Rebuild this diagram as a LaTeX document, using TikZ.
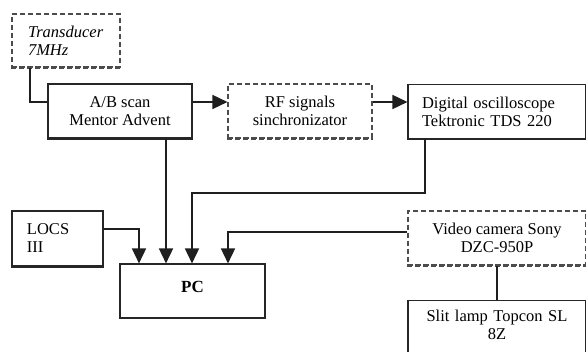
\documentclass[tikz,border=0pt]{standalone}
\usepackage{fontspec}
\setmainfont{Liberation Serif}
\usetikzlibrary{arrows.meta}
\begin{document}
\begin{tikzpicture}[x=1pt,y=-1pt,
  box/.style={draw=black!85, line width=1.1pt, rectangle, inner sep=0pt,
    font=\fontsize{16.5}{18}\selectfont},
  dbox/.style={box, draw=black!70, dash pattern=on 5pt off 3pt},
  shadowline/.style={line width=2.4pt, draw=black!85},
  dshadowline/.style={line width=2.4pt, draw=black!70, dash pattern=on 5pt off 3pt},
  conn/.style={line width=1.6pt, draw=black!88},
  arr/.style={conn, -{Triangle[length=15pt,width=14pt]}}]
\useasboundingbox (0,0) rectangle (586,352);
\clip (0,0) rectangle (586,352);
\fill[white] (0,0) rectangle (586,352);
% boxes
\node[dbox, minimum width=108pt, minimum height=53pt, text width=76pt, align=left,
  font=\fontsize{16.5}{18}\selectfont\itshape] (trans) at (66,40.5) {Transducer\\7MHz};
\node[box, minimum width=144pt, minimum height=54pt, align=center] (ab) at (120,111) {A/B scan\\Mentor Advent};
\node[dbox, minimum width=144pt, minimum height=54pt, align=center] (rf) at (300,111) {RF signals\\sinchronizator};
\node[box, minimum width=178pt, minimum height=54pt, text width=150pt, align=left] (osc) at (497,111.5) {Digital oscilloscope\\Tektronic TDS 220};
\node[box, minimum width=91pt, minimum height=55pt, text width=61pt, align=left] (locs) at (57.5,238.5) {LOCS\\III};
\node[box, minimum width=145pt, minimum height=54pt, text depth=8pt, font=\fontsize{17}{18}\selectfont\bfseries] (pc) at (192.5,291) {PC};
\node[dbox, minimum width=178pt, minimum height=54pt, align=center] (cam) at (497,238) {Video camera Sony\\DZC-950P};
\node[box, minimum width=178pt, text width=178pt, align=center, anchor=north, inner ysep=10pt] (slit) at (497,300) {Slit lamp Topcon SL\\8Z\\\mbox{}\\\mbox{}};
% bottom shadows
\draw[dshadowline] (trans.south west) -- (trans.south east);
\draw[shadowline] (ab.south west) -- (ab.south east);
\draw[dshadowline] (rf.south west) -- (rf.south east);
\draw[shadowline] (osc.south west) -- (osc.south east);
\draw[shadowline] (locs.south west) -- (locs.south east);
\draw[dshadowline] (cam.south west) -- (cam.south east);
% connectors
\draw[conn] (trans.south -| 30,0) |- (ab.west |- 0,102);
\draw[arr] (ab.east |- 0,102) -- (rf.west |- 0,102);
\draw[arr] (rf.east |- 0,102) -- (osc.west |- 0,102);
\draw[arr] (osc.south -| 425,0) -- (425,193) -- (192,193) -- (pc.north -| 192,0);
\draw[arr] (ab.south -| 166,0) -- (pc.north -| 166,0);
\draw[arr] (locs.east |- 0,229) -| (pc.north -| 139,0);
\draw[arr] (cam.west |- 0,232) -| (pc.north -| 228,0);
\draw[conn] (cam.south) -- (slit.north);
\end{tikzpicture}
\end{document}
